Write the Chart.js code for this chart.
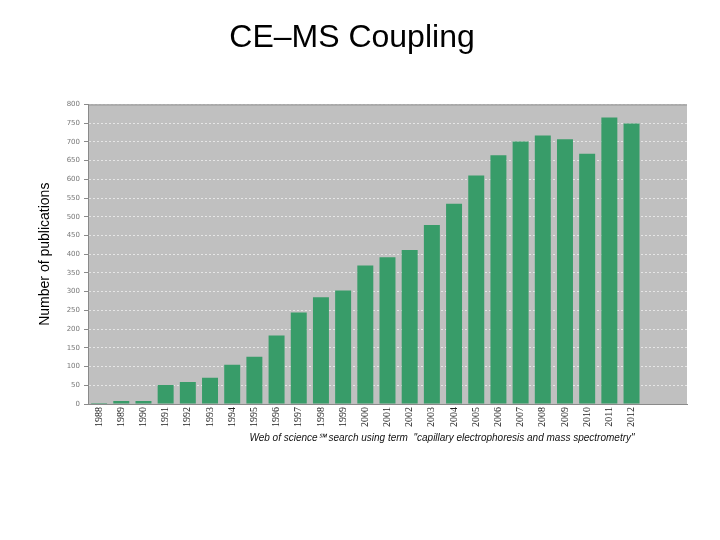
<!DOCTYPE html>
<html>
<head>
<meta charset="utf-8">
<script src="https://cdn.jsdelivr.net/npm/chart.js@4.4.0/dist/chart.umd.min.js"></script>
<style>
  html, body { margin: 0; padding: 0; background: #fff; }
  #wrap { width: 720px; height: 540px; }
</style>
</head>
<body>
<div id="wrap"><canvas id="pubChart" width="720" height="540"></canvas></div>
<script>
// publications per year (two trailing empty slots keep the grey area on the right)
const years = ['1988', '1989', '1990', '1991', '1992', '1993', '1994', '1995', '1996',
  '1997', '1998', '1999', '2000', '2001', '2002', '2003', '2004', '2005', '2006',
  '2007', '2008', '2009', '2010', '2011', '2012', '', ''];
const publications = [3, 8, 8, 51, 59, 70, 105, 126, 183, 244, 285, 303, 370, 392, 411,
  478, 535, 610, 664, 701, 717, 707, 668, 765, 749, null, null];
const yTicks = { min: 0, max: 800, step: 50 };

const titleText = 'CE\u2013MS Coupling';
const yTitleText = 'Number of publications';
const noteText = 'Web of science\u2120 search using term  "capillary electrophoresis and mass spectrometry"';

// grey plot background, top edge + footnote
const plotDecor = {
    id: 'plotDecor',
    beforeDraw(chart) {
        const { ctx, chartArea: a } = chart;
        ctx.save();
        ctx.fillStyle = '#c0c0c0';
        ctx.fillRect(a.left, a.top, a.right - a.left, a.bottom - a.top);
        ctx.restore();
    },
    afterDraw(chart) {
        const { ctx, chartArea: a } = chart;
        ctx.save();
        ctx.strokeStyle = '#8a8a8a';
        ctx.lineWidth = 1;
        ctx.beginPath();
        ctx.moveTo(a.left, a.top + 0.5);
        ctx.lineTo(a.right, a.top + 0.5);
        ctx.stroke();
        ctx.font = 'italic 10px "Liberation Sans", Arial, sans-serif';
        ctx.fillStyle = '#111';
        ctx.textAlign = 'center';
        ctx.textBaseline = 'middle';
        ctx.fillText(noteText, a.left + 354, a.bottom + 34);
        ctx.restore();
    }
};

const ctx = document.getElementById('pubChart').getContext('2d');
const chart = new Chart(ctx, {
    type: 'bar',
    data: {
        labels: years,
        datasets: [{
            label: 'Publications',
            data: publications,
            backgroundColor: '#389c69',
            borderWidth: 0,
            categoryPercentage: 1.0,
            barPercentage: 0.72
        }]
    },
    options: {
        responsive: false,
        animation: false,
        layout: { padding: { left: 17, right: 33, top: 0, bottom: 96 } },
        plugins: {
            legend: { display: false },
            tooltip: { enabled: false },
            title: {
                display: true,
                text: titleText,
                color: '#000',
                font: { family: '"Liberation Sans", Arial, sans-serif', size: 32, weight: 'normal' },
                padding: { top: 19, bottom: 47 }
            }
        },
        scales: {
            x: {
                grid: { display: false, drawTicks: false },
                border: { display: true, color: '#8a8a8a' },
                ticks: {
                    color: '#222',
                    font: { family: '"Liberation Serif", "DejaVu Serif", serif', size: 10 },
                    minRotation: 90,
                    maxRotation: 90,
                    autoSkip: false,
                    padding: 3
                },
                afterFit(scale) { scale.height = 40; }
            },
            y: {
                min: yTicks.min,
                max: yTicks.max,
                grid: {
                    color: 'rgba(255,255,255,0.6)',
                    tickColor: '#8a8a8a',
                    tickLength: 4,
                    drawTicks: true
                },
                border: { display: true, color: '#8a8a8a', dash: [2, 2] },
                ticks: {
                    stepSize: yTicks.step,
                    color: '#777',
                    font: { family: '"DejaVu Sans", sans-serif', size: 7 },
                    padding: 4
                },
                title: {
                    display: true,
                    text: yTitleText,
                    color: '#000',
                    font: { family: '"Liberation Sans", Arial, sans-serif', size: 14 },
                    padding: { top: 20, bottom: 4 }
                },
                afterFit(scale) { scale.width = 71; }
            }
        }
    },
    plugins: [plotDecor]
});
</script>
</body>
</html>
